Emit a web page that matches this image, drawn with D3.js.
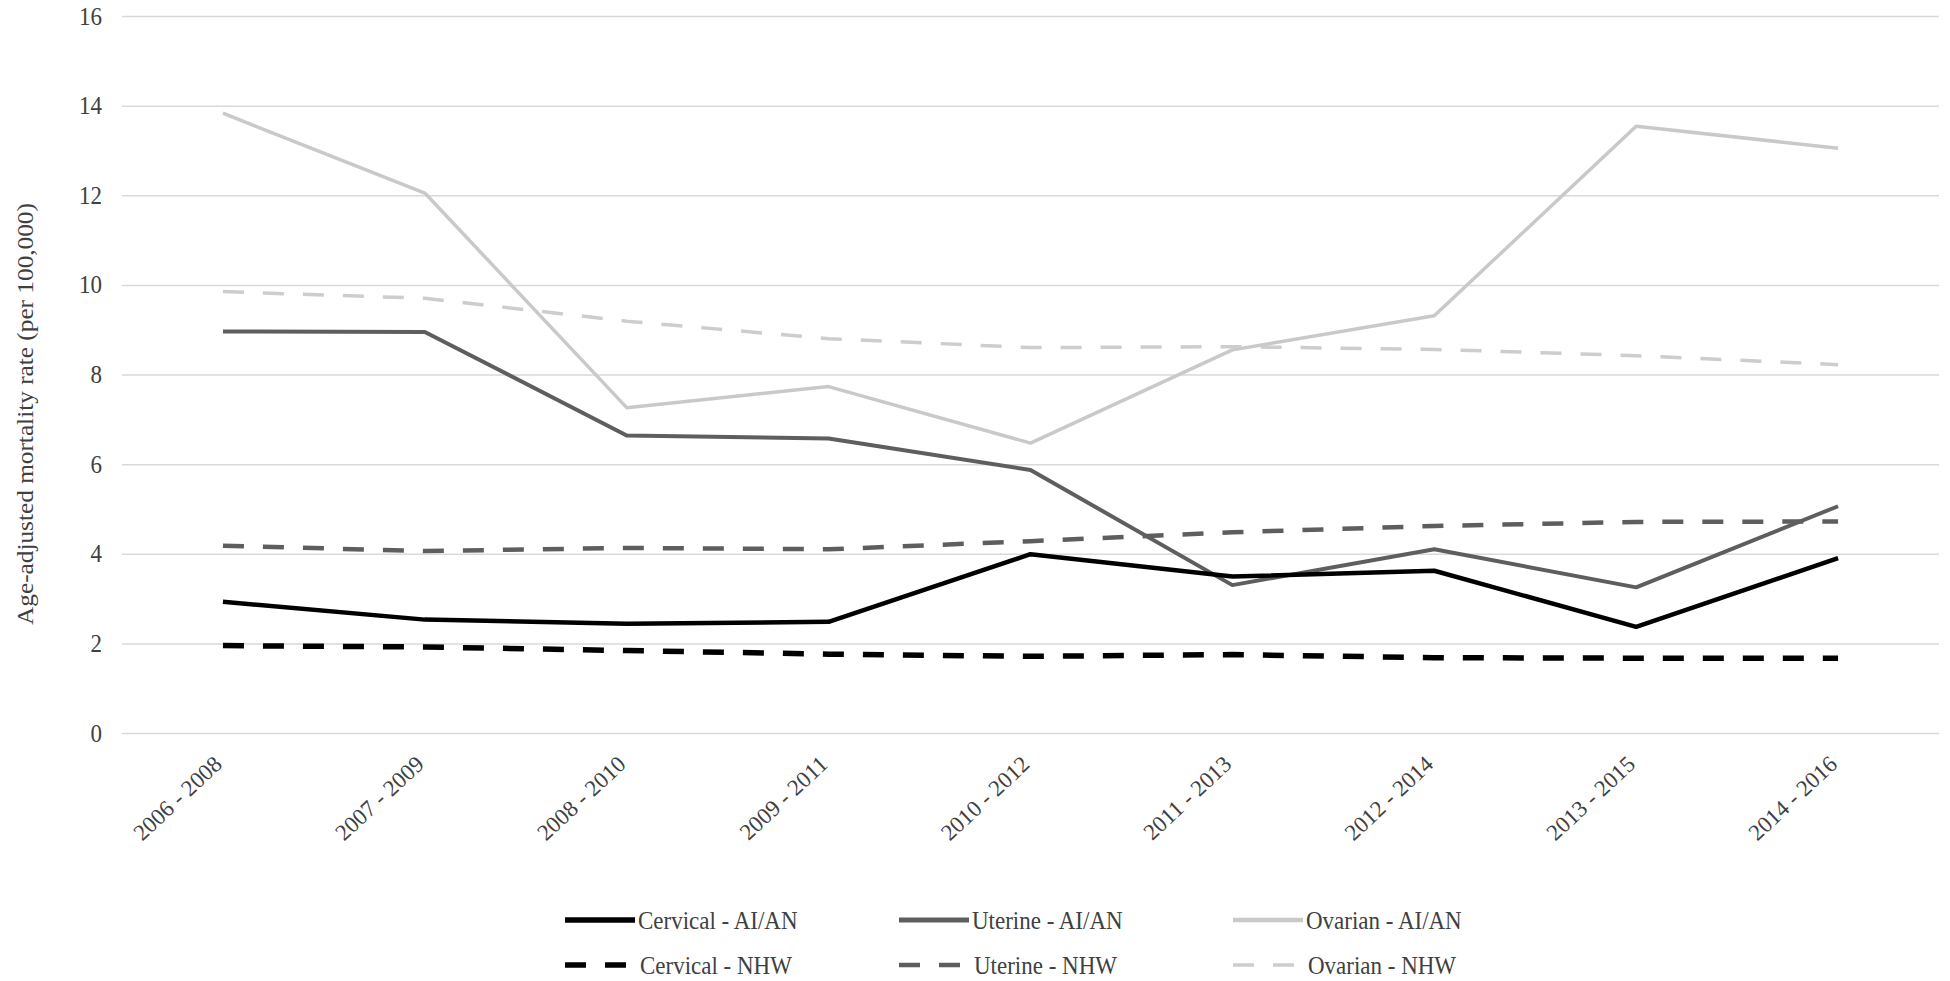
<!DOCTYPE html>
<html>
<head>
<meta charset="utf-8">
<script src="https://cdn.jsdelivr.net/npm/d3@7"></script>
<style>
  html, body { margin: 0; padding: 0; background: #fff; }
  svg { display: block; }
  text { font-family: "Liberation Serif", "Times New Roman", serif; }
</style>
</head>
<body>
<svg id="chart" width="1950" height="981"></svg>
<script>
// ---- data ----
const categories = ["2006 - 2008", "2007 - 2009", "2008 - 2010", "2009 - 2011", "2010 - 2012",
                    "2011 - 2013", "2012 - 2014", "2013 - 2015", "2014 - 2016"];
const cervicalAIAN = [2.93, 2.53, 2.44, 2.48, 3.99, 3.49, 3.62, 2.37, 3.90];
const uterineAIAN  = [8.96, 8.95, 6.64, 6.57, 5.87, 3.30, 4.10, 3.25, 5.06];
const ovarianAIAN  = [13.83, 12.05, 7.26, 7.73, 6.47, 8.55, 9.31, 13.54, 13.05];
const cervicalNHW  = [1.95, 1.92, 1.84, 1.76, 1.71, 1.75, 1.68, 1.67, 1.67];
const uterineNHW   = [4.18, 4.06, 4.13, 4.10, 4.28, 4.48, 4.62, 4.71, 4.72];
const ovarianNHW   = [9.85, 9.70, 9.19, 8.80, 8.60, 8.62, 8.56, 8.42, 8.22];
const yTicks = [0, 2, 4, 6, 8, 10, 12, 14, 16];
const seriesNames = ["Cervical - AI/AN", "Uterine - AI/AN", "Ovarian - AI/AN",
                     "Cervical - NHW", "Uterine - NHW", "Ovarian - NHW"];
const yTitle = "Age-adjusted mortality rate (per 100,000)";

// ---- styles ----
const series = [
  { name: seriesNames[0], values: cervicalAIAN, color: "#000000", width: 4.5, dash: null },
  { name: seriesNames[1], values: uterineAIAN,  color: "#5e5e5e", width: 4,   dash: null },
  { name: seriesNames[2], values: ovarianAIAN,  color: "#c9c9c9", width: 3.5, dash: null },
  { name: seriesNames[3], values: cervicalNHW,  color: "#000000", width: 5.5, dash: "21,19" },
  { name: seriesNames[4], values: uterineNHW,   color: "#5e5e5e", width: 4.5, dash: "21,19" },
  { name: seriesNames[5], values: ovarianNHW,   color: "#cdcdcd", width: 3.5, dash: "21,19" }
];

const svg = d3.select("#chart");
const plotLeft = 122, plotRight = 1939, plotTop = 16, plotBottom = 733;

const x = d3.scalePoint().domain(categories).range([plotLeft, plotRight]).padding(0.5);
const y = d3.scaleLinear().domain([0, 16]).range([plotBottom, plotTop]);

// gridlines + y tick labels
const yAxis = svg.append("g")
  .attr("transform", `translate(${plotLeft},0)`)
  .call(d3.axisLeft(y).tickValues(yTicks).tickSize(-(plotRight - plotLeft)).tickPadding(20).tickFormat(d3.format("d")));
yAxis.select(".domain").remove();
yAxis.selectAll(".tick line").attr("stroke", "#d9d9d9").attr("stroke-width", 1.5);
yAxis.selectAll(".tick text")
  .attr("font-size", 23)
  .attr("fill", "#404040")
  .attr("transform", "scale(1,1.1)");

// x axis labels
const xAxis = svg.append("g")
  .attr("transform", `translate(0,${plotBottom})`)
  .call(d3.axisBottom(x).tickSize(0));
xAxis.select(".domain").remove();
xAxis.selectAll(".tick text")
  .attr("font-size", 23)
  .attr("fill", "#404040")
  .attr("x", 0).attr("y", 0).attr("dy", 0)
  .attr("text-anchor", "end")
  .attr("transform", "translate(0,33) rotate(-43)");

// y axis title
svg.append("text")
  .attr("transform", "translate(25,414) rotate(-90) scale(1.1,1)")
  .attr("text-anchor", "middle")
  .attr("dy", "0.35em")
  .attr("font-size", 23)
  .attr("fill", "#404040")
  .text(yTitle);

// lines
const line = d3.line()
  .x((d, i) => x(categories[i]))
  .y(d => y(d));

const drawOrder = [2, 5, 1, 4, 0, 3];
drawOrder.forEach(k => {
  const s = series[k];
  svg.append("path")
    .datum(s.values)
    .attr("fill", "none")
    .attr("stroke", s.color)
    .attr("stroke-width", s.width)
    .attr("stroke-linejoin", "round")
    .attr("stroke-dasharray", s.dash)
    .attr("d", line);
});

// legend
const legend = svg.append("g");
series.forEach((s, i) => {
  const col = i % 3, row = Math.floor(i / 3);
  const g = legend.append("g").attr("transform", `translate(${565 + col * 334},${920 + row * 45})`);
  g.append("line")
    .attr("x1", 0).attr("x2", s.dash ? 62 : 70)
    .attr("y1", 0).attr("y2", 0)
    .attr("stroke", s.color)
    .attr("stroke-width", s.dash ? s.width : s.width + 1)
    .attr("stroke-dasharray", s.dash);
  g.append("text")
    .attr("x", s.dash ? 75 : 73)
    .attr("dy", "0.35em")
    .attr("font-size", 23)
    .attr("fill", "#404040")
    .attr("transform", "scale(1,1.1)")
    .text(s.name);
});
</script>
</body>
</html>
